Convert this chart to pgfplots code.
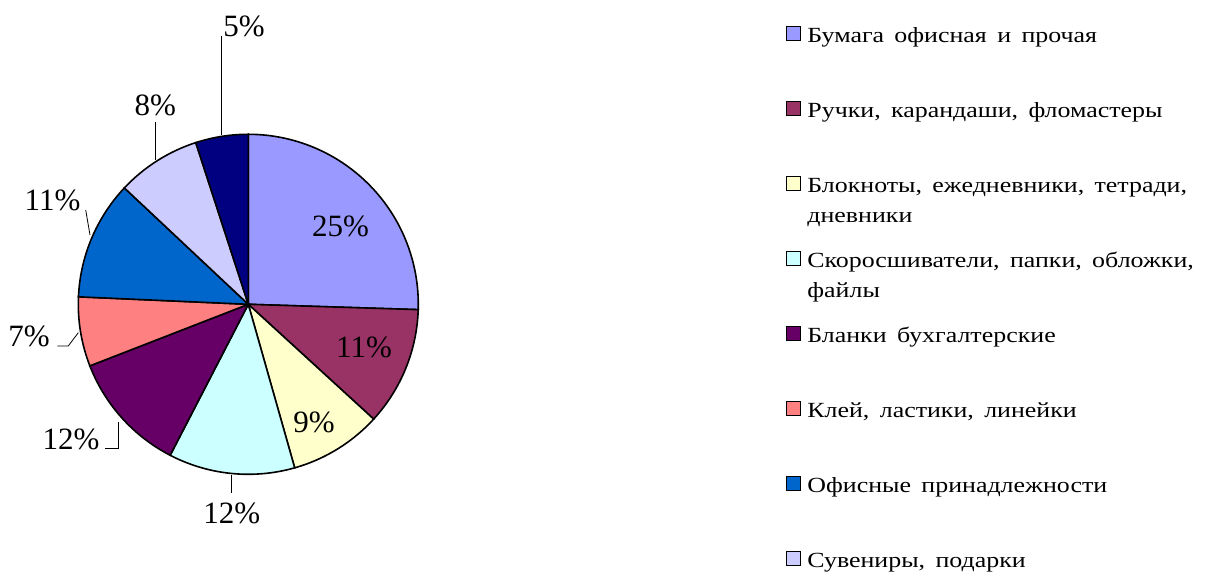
\documentclass[border=0pt]{standalone}
\usepackage{pgfplots}
\pgfplotsset{compat=1.18}
\usepackage{fontspec}
\setmainfont{Liberation Serif}
\newfontfamily\legfam{Liberation Serif}[FakeStretch=1.2, WordSpace=1.6]
\definecolor{cA}{HTML}{9999FF}
\definecolor{cB}{HTML}{993366}
\definecolor{cC}{HTML}{FFFFCC}
\definecolor{cD}{HTML}{CCFFFF}
\definecolor{cE}{HTML}{660066}
\definecolor{cF}{HTML}{FF8080}
\definecolor{cG}{HTML}{0066CC}
\definecolor{cH}{HTML}{CCCCFF}
\definecolor{cI}{HTML}{000080}
% shares, per cent
\def\vA{25.5}\def\vB{11.3}\def\vC{8.8}\def\vD{12.0}\def\vE{11.5}
\def\vF{6.6}\def\vG{11.3}\def\vH{8.0}\def\vI{5.0}
\pgfmathsetmacro\aA{90}
\pgfmathsetmacro\aB{\aA-3.6*\vA}
\pgfmathsetmacro\aC{\aB-3.6*\vB}
\pgfmathsetmacro\aD{\aC-3.6*\vC}
\pgfmathsetmacro\aE{\aD-3.6*\vD}
\pgfmathsetmacro\aF{\aE-3.6*\vE}
\pgfmathsetmacro\aG{\aF-3.6*\vF}
\pgfmathsetmacro\aH{\aG-3.6*\vG}
\pgfmathsetmacro\aI{\aH-3.6*\vH}
\pgfmathsetmacro\aJ{\aI-3.6*\vI}
\newcommand\legfont{\legfam\fontsize{21.6}{28.5}\selectfont}
\newcommand\st{\rule[-8.55pt]{0pt}{28.5pt}}
\newcommand\labfont{\fontsize{31}{37}\selectfont}
\newcommand\slice[4][]{\addplot[fill=#4, draw=black, line width=1.6pt, domain=#3:#2, samples=90, variable=\t, #1] ({248.3+170*cos(\t)},{267.7+170*sin(\t)}) -- (axis cs:248.3,267.7) -- cycle;}
\newcommand\two[2]{\st\raisebox{0pt}[0pt][0pt]{\begin{tabular}[t]{@{}l@{}}#1\\[1pt]#2\end{tabular}}}
\begin{document}
\begin{tikzpicture}
\begin{axis}[
  x=1pt, y=1pt, xmin=0, xmax=1205, ymin=0, ymax=572,
  hide axis, clip=false, scale only axis,
  legend cell align=left,
  legend image code/.code={\draw[#1, line width=1.5pt] (0pt,-7pt) rectangle (14pt,7pt);},
  legend style={at={(axis description cs:0.65203,0.96023)}, anchor=north west,
    draw=none, fill=none, inner sep=0pt, row sep=53.5pt, column sep=6pt,
    nodes={inner sep=0pt}, font=\legfont},
]
\slice{\aA}{\aB}{cA}\addlegendentry{\st Бумага офисная и прочая}
\slice{\aB}{\aC}{cB}\addlegendentry{\st Ручки, карандаши, фломастеры}
\slice{\aC}{\aD}{cC}\addlegendentry{\two{Блокноты, ежедневники, тетради,}{дневники}}
\slice{\aD}{\aE}{cD}\addlegendentry{\two{Скоросшиватели, папки, обложки,}{файлы}}
\slice{\aE}{\aF}{cE}\addlegendentry{\st Бланки бухгалтерские}
\slice{\aF}{\aG}{cF}\addlegendentry{\st Клей, ластики, линейки}
\slice{\aG}{\aH}{cG}\addlegendentry{\st Офисные принадлежности}
\slice{\aH}{\aI}{cH}\addlegendentry{\st Сувениры, подарки}
\slice[forget plot]{\aI}{\aJ}{cI}
% leader lines
\addplot[forget plot, black, line width=0.8pt] coordinates {(221,536.3) (221,437)};
\addplot[forget plot, black, line width=0.8pt] coordinates {(155.7,449.7) (155.7,412)};
\addplot[forget plot, black, line width=0.8pt] coordinates {(85.7,362) (90,337)};
\addplot[forget plot, black, line width=0.8pt] coordinates {(57.3,226) (68.3,226) (78.3,239.3)};
\addplot[forget plot, black, line width=0.8pt] coordinates {(105,123.7) (118.3,123.7) (118.3,150.3)};
\addplot[forget plot, black, line width=0.8pt] coordinates {(231,97) (231,78.7)};
% labels
\node[anchor=base, font=\labfont] at (axis cs:340.5,335.3) {25\%};
\node[anchor=base, font=\labfont] at (axis cs:364,214.7) {11\%};
\node[anchor=base, font=\labfont] at (axis cs:314,139.3) {9\%};
\node[anchor=base, font=\labfont] at (axis cs:231.7,48) {12\%};
\node[anchor=base, font=\labfont] at (axis cs:71,122.7) {12\%};
\node[anchor=base, font=\labfont] at (axis cs:29,225.3) {7\%};
\node[anchor=base, font=\labfont] at (axis cs:52.5,361) {11\%};
\node[anchor=base, font=\labfont] at (axis cs:155.3,456) {8\%};
\node[anchor=base, font=\labfont] at (axis cs:244,535.3) {5\%};
\end{axis}
\pgfresetboundingbox
\path (current axis.south west) rectangle (current axis.north east);
\end{tikzpicture}
\end{document}
